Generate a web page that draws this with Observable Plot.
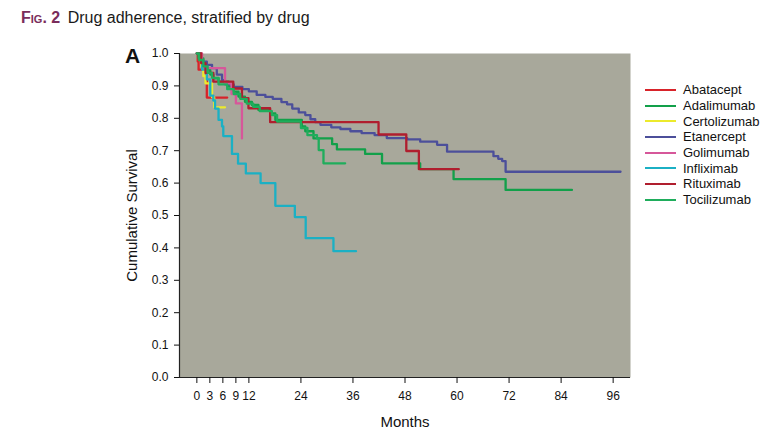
<!DOCTYPE html>
<html>
<head>
<meta charset="utf-8">
<script src="https://cdn.jsdelivr.net/npm/d3@7"></script>
<script src="https://cdn.jsdelivr.net/npm/@observablehq/plot@0.6"></script>
<style>
  html, body { margin: 0; padding: 0; background: #fff; }
  body { font-family: "Liberation Sans", Arial, Helvetica, sans-serif; color: #222; }
  #wrap { position: relative; width: 784px; height: 431px; overflow: hidden; }
  #title { position: absolute; left: 21px; top: 9px; font-size: 16px; line-height: 18px; white-space: nowrap; color: #1a1a1a; }
  #title .fig { font-variant: small-caps; font-weight: bold; color: #7a2d5b; margin-right: 3px; }
  #panel { position: absolute; left: 125px; top: 45px; font-size: 21px; line-height: 21px; font-weight: bold; color: #111; }
  #chart { position: absolute; left: 0; top: 40px; }
  #legend { position: absolute; left: 645px; top: 82px; font-size: 13px; color: #111; }
  #legend .row { height: 15.7px; display: flex; align-items: center; white-space: nowrap; }
  #legend svg { margin-right: 7px; }
</style>
</head>
<body>
<div id="wrap">
  <div id="title"><span class="fig">Fig. 2</span> Drug adherence, stratified by drug</div>
  <div id="panel">A</div>
  <div id="chart"></div>
  <div id="legend"></div>
</div>
<script>
// ---- data ----
const drugs = ["Abatacept", "Adalimumab", "Certolizumab", "Etanercept", "Golimumab", "Infliximab", "Rituximab", "Tocilizumab"];
const drugColors = ["#d8232a", "#12a04a", "#ecea2c", "#4c4f9a", "#d6579a", "#1bb0c4", "#b01e2e", "#1fad5c"];

const xTicks = [0, 3, 6, 9, 12, 24, 36, 48, 60, 72, 84, 96];
const yTicks = [0, 0.1, 0.2, 0.3, 0.4, 0.5, 0.6, 0.7, 0.8, 0.9, 1.0];
const xDomain = [-4, 100];
const yDomain = [0, 1];

const abataceptMonths = [0, 0.2, 0.4, 2.3, 7.0];
const abataceptSurv   = [1, 0.975, 0.95, 0.864, 0.864];

const adalimumabMonths = [0, 0.4, 1.5, 1.9, 3.1, 3.8, 5.0, 7.3, 8.4, 9.6, 11.1, 12.7, 14.2, 16.9, 18.1, 24.2, 25.0, 26.9, 31.2, 32.3, 38.8, 42.7, 51.5, 59.2, 71.2, 86.5];
const adalimumabSurv   = [1, 0.985, 0.965, 0.95, 0.935, 0.923, 0.913, 0.898, 0.882, 0.867, 0.851, 0.841, 0.826, 0.815, 0.795, 0.775, 0.76, 0.738, 0.72, 0.704, 0.69, 0.661, 0.643, 0.612, 0.579, 0.579];

const certolizumabMonths = [0, 1.0, 1.5, 2.0, 3.5, 4.0, 6.5];
const certolizumabSurv   = [1, 0.96, 0.93, 0.908, 0.865, 0.834, 0.834];

const etanerceptMonths = [0, 0.8, 1.2, 2.3, 3.5, 4.6, 5.8, 6.5, 8.5, 10.5, 12.0, 13.8, 15.8, 17.5, 19.5, 20.8, 22.0, 23.5, 25.0, 26.2, 27.3, 28.5, 31.0, 33.1, 35.4, 38.0, 41.0, 43.8, 48.5, 51.5, 55.4, 57.7, 68.4, 69.5, 70.4, 71.2, 97.7];
const etanerceptSurv   = [1, 0.985, 0.975, 0.965, 0.955, 0.935, 0.918, 0.905, 0.897, 0.89, 0.883, 0.872, 0.866, 0.86, 0.85, 0.843, 0.83, 0.818, 0.81, 0.797, 0.788, 0.78, 0.772, 0.767, 0.76, 0.754, 0.748, 0.739, 0.735, 0.728, 0.718, 0.697, 0.683, 0.675, 0.668, 0.635, 0.635];

const golimumabMonths = [0, 1.2, 6.5, 8.0, 9.0, 10.4];
const golimumabSurv   = [1, 0.955, 0.908, 0.875, 0.846, 0.738];

const infliximabMonths = [0, 0.8, 1.2, 2.3, 3.1, 3.8, 4.2, 5.0, 5.8, 6.1, 8.1, 9.5, 11.3, 14.7, 18.1, 22.6, 25.1, 31.5, 36.7];
const infliximabSurv   = [1, 0.98, 0.95, 0.92, 0.87, 0.855, 0.83, 0.795, 0.775, 0.745, 0.69, 0.66, 0.63, 0.60, 0.53, 0.495, 0.43, 0.39, 0.39];

const rituximabMonths = [0, 1.0, 2.0, 3.8, 8.4, 10.4, 11.9, 16.9, 41.9, 48.3, 51.2, 60.4];
const rituximabSurv   = [1, 0.97, 0.94, 0.913, 0.892, 0.862, 0.831, 0.788, 0.75, 0.699, 0.643, 0.643];

const tocilizumabMonths = [0, 0.5, 1.5, 2.5, 3.5, 5.0, 7.0, 8.5, 10.0, 11.5, 13.0, 14.5, 17.3, 18.5, 23.5, 24.0, 25.5, 27.7, 28.1, 29.2, 34.2];
const tocilizumabSurv   = [1, 0.98, 0.96, 0.94, 0.925, 0.905, 0.89, 0.875, 0.86, 0.845, 0.835, 0.822, 0.81, 0.79, 0.79, 0.77, 0.748, 0.738, 0.702, 0.661, 0.661];

// ---- build table ----
const seriesList = [
  [drugs[0], abataceptMonths, abataceptSurv],
  [drugs[1], adalimumabMonths, adalimumabSurv],
  [drugs[2], certolizumabMonths, certolizumabSurv],
  [drugs[3], etanerceptMonths, etanerceptSurv],
  [drugs[4], golimumabMonths, golimumabSurv],
  [drugs[5], infliximabMonths, infliximabSurv],
  [drugs[6], rituximabMonths, rituximabSurv],
  [drugs[7], tocilizumabMonths, tocilizumabSurv]
];
const rows = seriesList.flatMap(([drug, t, s]) => t.map((m, i) => ({drug, month: m, surv: s[i]})));

const chart = Plot.plot({
  width: 784,
  height: 391,
  marginLeft: 179,
  marginRight: 154,
  marginTop: 13,
  marginBottom: 54,
  style: {fontFamily: "Liberation Sans, Arial, sans-serif", fontSize: "12px", color: "#111", background: "transparent"},
  x: {domain: xDomain},
  y: {domain: yDomain},
  color: {domain: drugs, range: drugColors},
  marks: [
    Plot.frame({fill: "#a8a89b", stroke: null}),
    Plot.ruleY([yDomain[0]], {stroke: "#222", strokeWidth: 1.2}),
    Plot.ruleX([xDomain[0]], {stroke: "#222", strokeWidth: 1.2}),
    Plot.axisX({ticks: xTicks, tickSize: 6, tickPadding: 8, label: null, fontSize: 12}),
    Plot.axisY({ticks: yTicks, tickSize: 5, tickPadding: 6, tickFormat: d3.format(".1f"), label: null, fontSize: 12}),
    Plot.line(rows, {x: "month", y: "surv", z: "drug", stroke: "drug", curve: "step-after", strokeWidth: 2.3}),
    Plot.text(["Months"], {frameAnchor: "bottom", dy: 49, fontSize: 15, fill: "#111"}),
    Plot.text(["Cumulative Survival"], {frameAnchor: "left", textAnchor: "middle", dx: -47, rotate: -90, fontSize: 15, fill: "#111"})
  ]
});
document.getElementById("chart").appendChild(chart);

// ---- legend ----
const legend = document.getElementById("legend");
drugs.forEach((d, i) => {
  const row = document.createElement("div");
  row.className = "row";
  row.innerHTML = `<svg width="31" height="4"><line x1="0" x2="31" y1="2" y2="2" stroke="${drugColors[i]}" stroke-width="2"/></svg><span>${d}</span>`;
  legend.appendChild(row);
});
</script>
</body>
</html>
